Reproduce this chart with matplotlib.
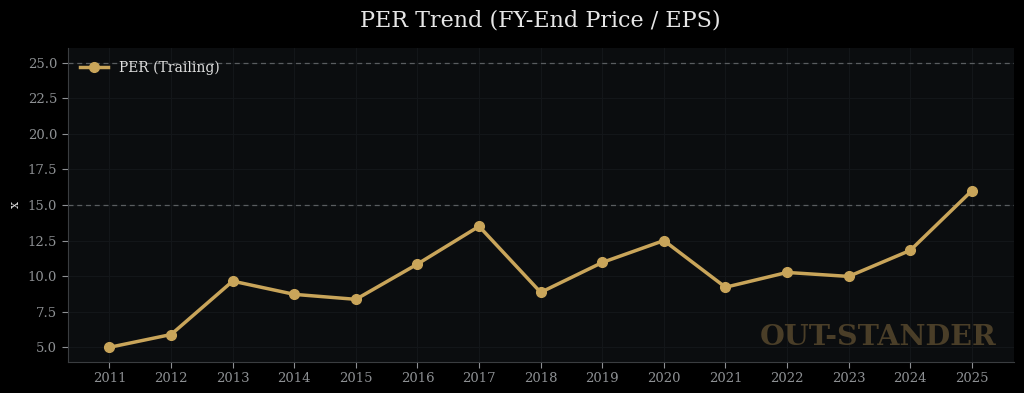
import matplotlib
matplotlib.use("Agg")
import matplotlib.pyplot as plt

years = [2011, 2012, 2013, 2014, 2015, 2016, 2017, 2018, 2019, 2020,
         2021, 2022, 2023, 2024, 2025]
per_trailing = [5.0, 5.9, 9.65, 8.72, 8.37, 10.85, 13.5, 8.86, 10.96, 12.5,
                9.22, 10.26, 9.98, 11.81, 16.0]
ref_lines = [15.0, 25.0]

plt.rcParams['font.family'] = ['DejaVu Serif']

fig, ax = plt.subplots(figsize=(10.24, 3.93), dpi=100)
fig.patch.set_facecolor('#000000')
ax.set_facecolor('#0b0d0f')

gold = '#c9a55a'

# faint background grid
ax.grid(True, color='#131619', linewidth=0.8, linestyle='-')
ax.set_axisbelow(True)

for v in ref_lines:
	ax.axhline(v, color='#5a5d60', linewidth=0.9, linestyle='--', dashes=(4, 3))

ax.plot(years, per_trailing, color=gold, linewidth=2.5, marker='o',
	markersize=7, label='PER (Trailing)')

ax.set_xticks(years)
ax.set_xlim(years[0] - 0.68, years[-1] + 0.68)
ax.set_ylim(4.0, 26.0)
ax.set_yticks([5.0, 7.5, 10.0, 12.5, 15.0, 17.5, 20.0, 22.5, 25.0])
ax.yaxis.set_major_formatter(matplotlib.ticker.FormatStrFormatter('%.1f'))

ax.tick_params(colors='#8e9194', labelsize=9.5, length=4)
for s in ['top', 'right']:
	ax.spines[s].set_visible(False)
for s in ['left', 'bottom']:
	ax.spines[s].set_color('#3a3d40')

ax.set_ylabel('x', color='#e0e0e0', fontsize=9)
ax.set_title('PER Trend (FY-End Price / EPS)', color='#e6e6e6', fontsize=16, pad=16)

leg = ax.legend(loc='upper left', frameon=False, fontsize=10)
for t in leg.get_texts():
	t.set_color('#e0e0e0')

ax.text(0.982, 0.035, 'OUT-STANDER', transform=ax.transAxes, ha='right', va='bottom',
	fontsize=20.5, fontweight='bold', color='#4a3e28')

fig.subplots_adjust(left=0.066, right=0.99, top=0.877, bottom=0.08)
fig.savefig('out.png', dpi=100, facecolor=fig.get_facecolor())
